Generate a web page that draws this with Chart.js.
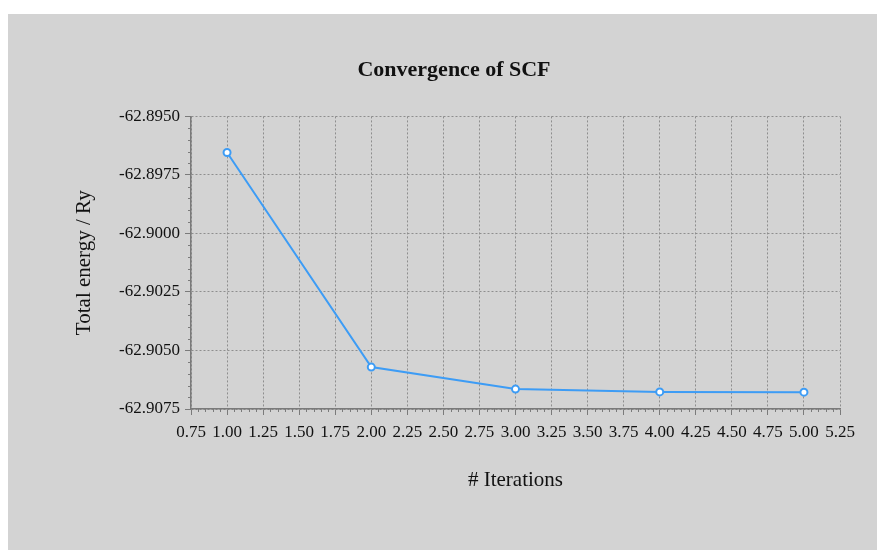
<!DOCTYPE html>
<html>
<head>
<meta charset="utf-8">
<script src="https://cdn.jsdelivr.net/npm/chart.js@4/dist/chart.umd.min.js"></script>
<style>
  html, body { margin: 0; padding: 0; background: #ffffff; }
  #wrap { position: absolute; left: 8px; top: 14px; width: 869px; height: 536px; background: #d3d3d3; }
</style>
</head>
<body>
<div id="wrap"><canvas id="scfChart" width="869" height="536"></canvas></div>
<script>
// SCF convergence data
const iterations = [1, 2, 3, 4, 5];
const totalEnergy = [-62.89654, -62.90571, -62.90665, -62.90677, -62.90678];

// axis ticks
const xTicks = [0.75, 1.00, 1.25, 1.50, 1.75, 2.00, 2.25, 2.50, 2.75, 3.00, 3.25, 3.50, 3.75, 4.00, 4.25, 4.50, 4.75, 5.00, 5.25];
const yTicks = [-62.9075, -62.9050, -62.9025, -62.9000, -62.8975, -62.8950];

const serif = 'Liberation Serif, Times New Roman, serif';
const gridGrey = '#8e8e8e';
const axisGrey = '#7a7a7a';

// small ticks between the labelled ones (4 per interval)
const minorTicks = {
    id: 'minorTicks',
    afterDraw(chart) {
        const ctx = chart.ctx;
        const xs = chart.scales.x, ys = chart.scales.y;
        ctx.save();
        ctx.strokeStyle = axisGrey;
        ctx.lineWidth = 1;
        ctx.beginPath();
        for (let i = 0; i < xTicks.length - 1; i++) {
            const step = (xTicks[i + 1] - xTicks[i]) / 5;
            for (let k = 1; k < 5; k++) {
                const px = Math.round(xs.getPixelForValue(xTicks[i] + k * step)) + 0.5;
                ctx.moveTo(px, xs.top);
                ctx.lineTo(px, xs.top + 3);
            }
        }
        for (let i = 0; i < yTicks.length - 1; i++) {
            const step = (yTicks[i + 1] - yTicks[i]) / 5;
            for (let k = 1; k < 5; k++) {
                const py = Math.round(ys.getPixelForValue(yTicks[i] + k * step)) + 0.5;
                ctx.moveTo(ys.right - 3, py);
                ctx.lineTo(ys.right, py);
            }
        }
        ctx.stroke();
        ctx.restore();
    }
};

const ctx = document.getElementById('scfChart');

new Chart(ctx, {
    type: 'line',
    data: {
        datasets: [{
            label: 'Total energy',
            data: iterations.map((it, i) => ({ x: it, y: totalEnergy[i] })),
            borderColor: '#3d9cf5',
            backgroundColor: '#ffffff',
            borderWidth: 2,
            pointRadius: 3.5,
            pointBorderWidth: 2,
            pointBorderColor: '#3d9cf5',
            pointBackgroundColor: '#ffffff',
            tension: 0
        }]
    },
    options: {
        responsive: false,
        animation: false,
        devicePixelRatio: 1,
        layout: { padding: { left: 60, right: 37, top: 0, bottom: 57 } },
        plugins: {
            legend: { display: false },
            tooltip: { enabled: false },
            title: {
                display: true,
                text: 'Convergence of SCF',
                color: '#111111',
                font: { family: serif, size: 22, weight: 'bold' },
                padding: { top: 43, bottom: 33 }
            }
        },
        scales: {
            x: {
                type: 'linear',
                min: 0.75,
                max: 5.25,
                afterBuildTicks: (scale) => { scale.ticks = xTicks.map(v => ({ value: v })); },
                afterFit: (scale) => { scale.height = 84; },
                ticks: {
                    color: '#111111',
                    font: { family: serif, size: 17 },
                    padding: 7,
                    maxRotation: 0,
                    autoSkip: false,
                    callback: (v) => Number(v).toFixed(2)
                },
                grid: { color: gridGrey, lineWidth: 1, tickLength: 6, tickColor: axisGrey },
                border: { display: true, color: axisGrey, width: 1.5, dash: [2, 2] },
                title: {
                    display: true,
                    text: '# Iterations',
                    color: '#111111',
                    font: { family: serif, size: 21 },
                    padding: { top: 4, bottom: 0 }
                }
            },
            y: {
                min: -62.9075,
                max: -62.8950,
                afterBuildTicks: (scale) => { scale.ticks = yTicks.map(v => ({ value: v })); },
                afterFit: (scale) => { scale.width = 123; },
                ticks: {
                    color: '#111111',
                    font: { family: serif, size: 17 },
                    padding: 5,
                    autoSkip: false,
                    callback: (v) => Number(v).toFixed(4)
                },
                grid: { color: gridGrey, lineWidth: 1, tickLength: 6, tickColor: axisGrey },
                border: { display: true, color: axisGrey, width: 1.5, dash: [2, 2] },
                title: {
                    display: true,
                    text: 'Total energy / Ry',
                    color: '#111111',
                    font: { family: serif, size: 21 },
                    padding: { top: 4, bottom: 0 }
                }
            }
        }
    },
    plugins: [minorTicks]
});
</script>
</body>
</html>
